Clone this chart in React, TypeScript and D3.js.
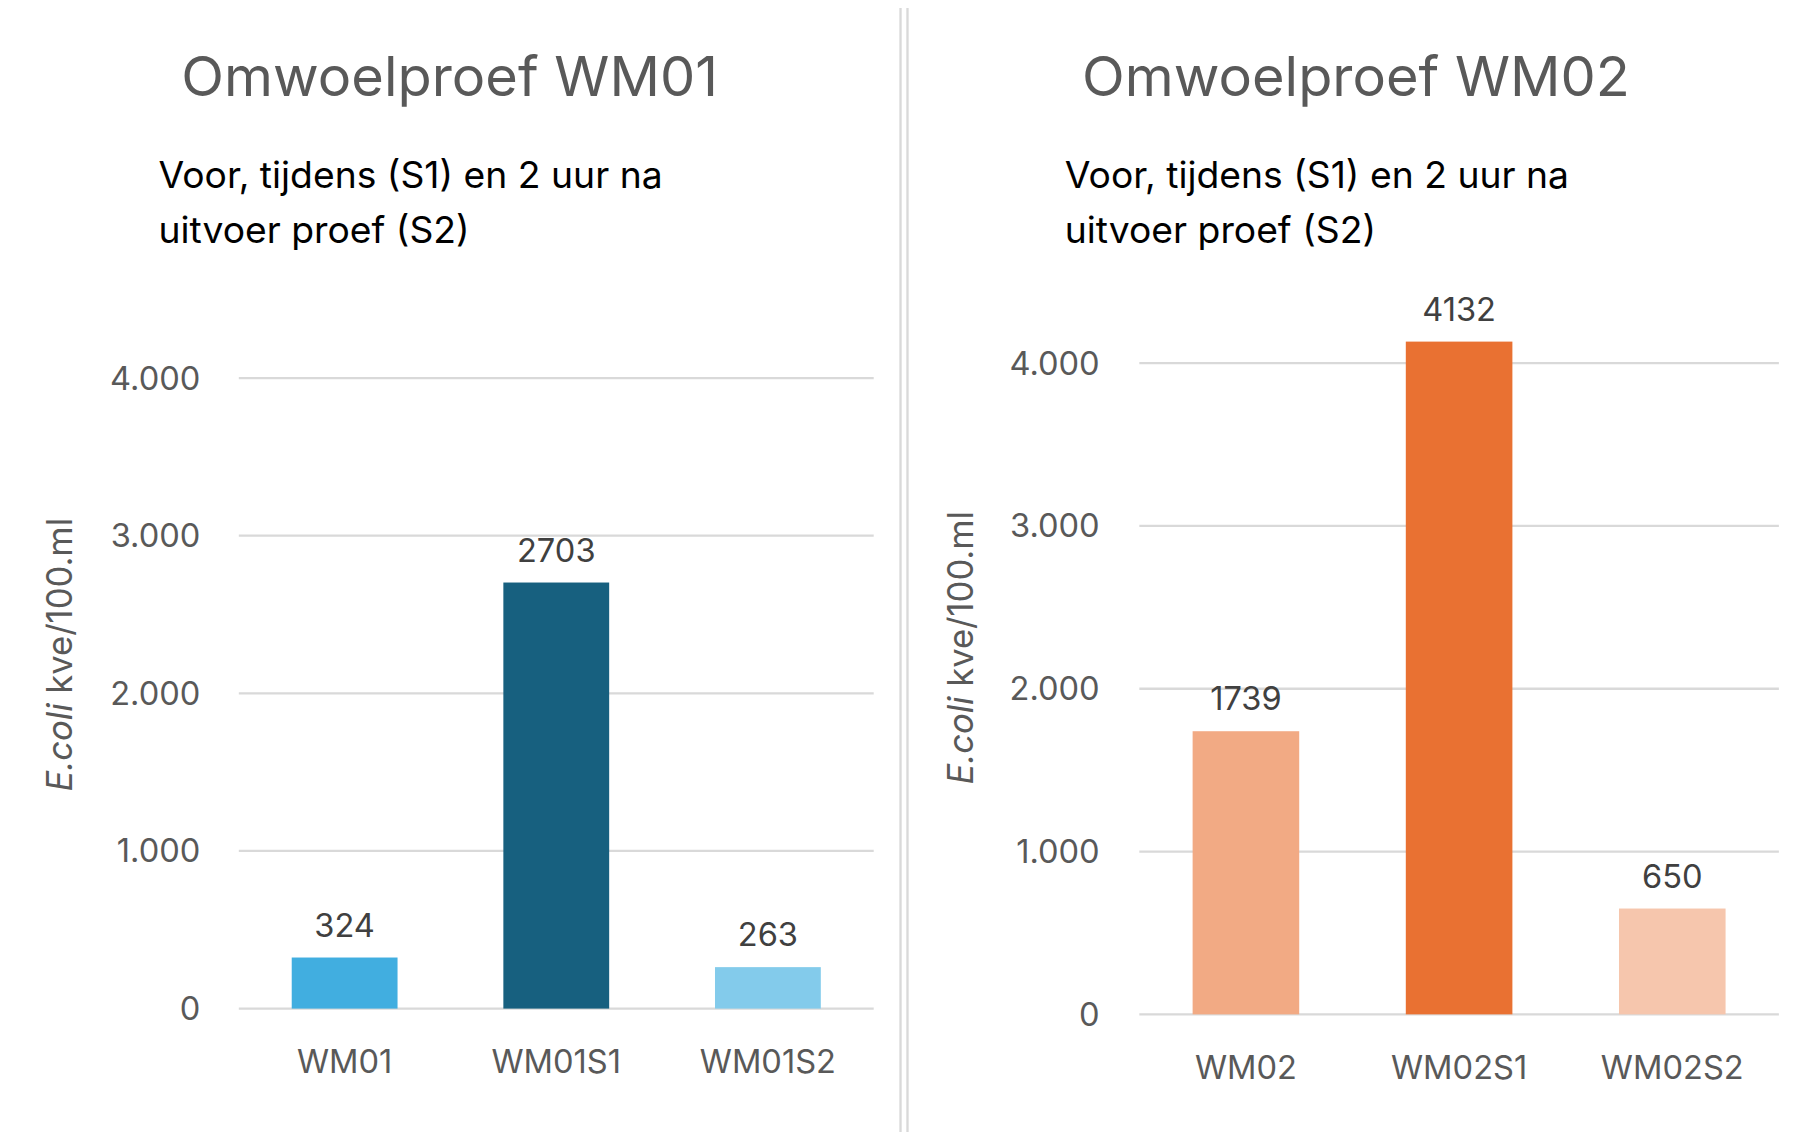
import * as d3 from "d3";

const ticks = [0, 1000, 2000, 3000, 4000];
const fmt = (v: number) => (v === 0 ? "0" : d3.format(",")(v).replace(",", "."));

const cats1 = ["WM01", "WM01S1", "WM01S2"];
const vals1 = [324, 2703, 263];
const cols1 = ["#41AEE0", "#17607F", "#83CBEB"];

const cats2 = ["WM02", "WM02S1", "WM02S2"];
const vals2 = [1739, 4132, 650];
const cols2 = ["#F2AA84", "#E97132", "#F6C6AD"];

const FONT = "Inter, 'Open Sans', sans-serif";

function Panel({ x0, title, cats, vals, cols, y0, y4000, gx0, gx1, tickX, axisX, axisY }: any) {
  const y = d3.scaleLinear().domain([0, 4000]).range([y0, y4000]);
  const x = d3.scaleBand().domain(cats).range([gx0, gx1]).paddingInner(0.5).paddingOuter(0.25);
  return (
    <g>
      <rect x={x0 + 1} y={1} width={772} height={987} fill="#fff" stroke="#d9d9d9" strokeWidth={2} />
      <text x={x0 + 386} y={83} textAnchor="middle" fontSize={48} fill="#595959">{title}</text>
      <text x={x0 + 136} y={163} fontSize={32} fill="#000">Voor, tijdens (S1) en 2 uur na</text>
      <text x={x0 + 136} y={211} fontSize={32} fill="#000">uitvoer proef (S2)</text>
      {ticks.map((t) => (
        <g key={t}>
          <line x1={gx0} x2={gx1} y1={y(t)} y2={y(t)} stroke="#d9d9d9" strokeWidth={2} />
          <text x={tickX} y={y(t) + 10} textAnchor="end" fontSize={28} fill="#595959">{fmt(t)}</text>
        </g>
      ))}
      {cats.map((c: string, i: number) => (
        <g key={c}>
          <rect x={x(c)} y={y(vals[i])} width={x.bandwidth()} height={y0 - y(vals[i])} fill={cols[i]} />
          <text x={x(c)! + x.bandwidth() / 2} y={y(vals[i]) - 18} textAnchor="middle" fontSize={28} fill="#404040">{vals[i]}</text>
          <text x={x(c)! + x.bandwidth() / 2} y={y0 + 56} textAnchor="middle" fontSize={28} fill="#595959">{c}</text>
        </g>
      ))}
      <text transform={`translate(${axisX},${axisY}) rotate(-90)`} textAnchor="middle" fontSize={30} fill="#595959">
        <tspan fontStyle="italic">E.coli</tspan> kve/100.ml
      </text>
    </g>
  );
}

export default function App() {
  return (
    <div style={{ margin: -8 }}>
      <svg width={1808} height={1140} viewBox="0 0 1552 989" preserveAspectRatio="none" style={{ display: "block", fontFamily: FONT }}>
        <rect width={1552} height={989} fill="#fff" />
        <Panel x0={0} title="Omwoelproef WM01" cats={cats1} vals={vals1} cols={cols1}
          y0={875} y4000={328} gx0={205} gx1={750} tickX={172} axisX={62} axisY={568} />
        <Panel x0={778} title="Omwoelproef WM02" cats={cats2} vals={vals2} cols={cols2}
          y0={880} y4000={315} gx0={978} gx1={1527} tickX={944} axisX={835} axisY={562} />
      </svg>
    </div>
  );
}
